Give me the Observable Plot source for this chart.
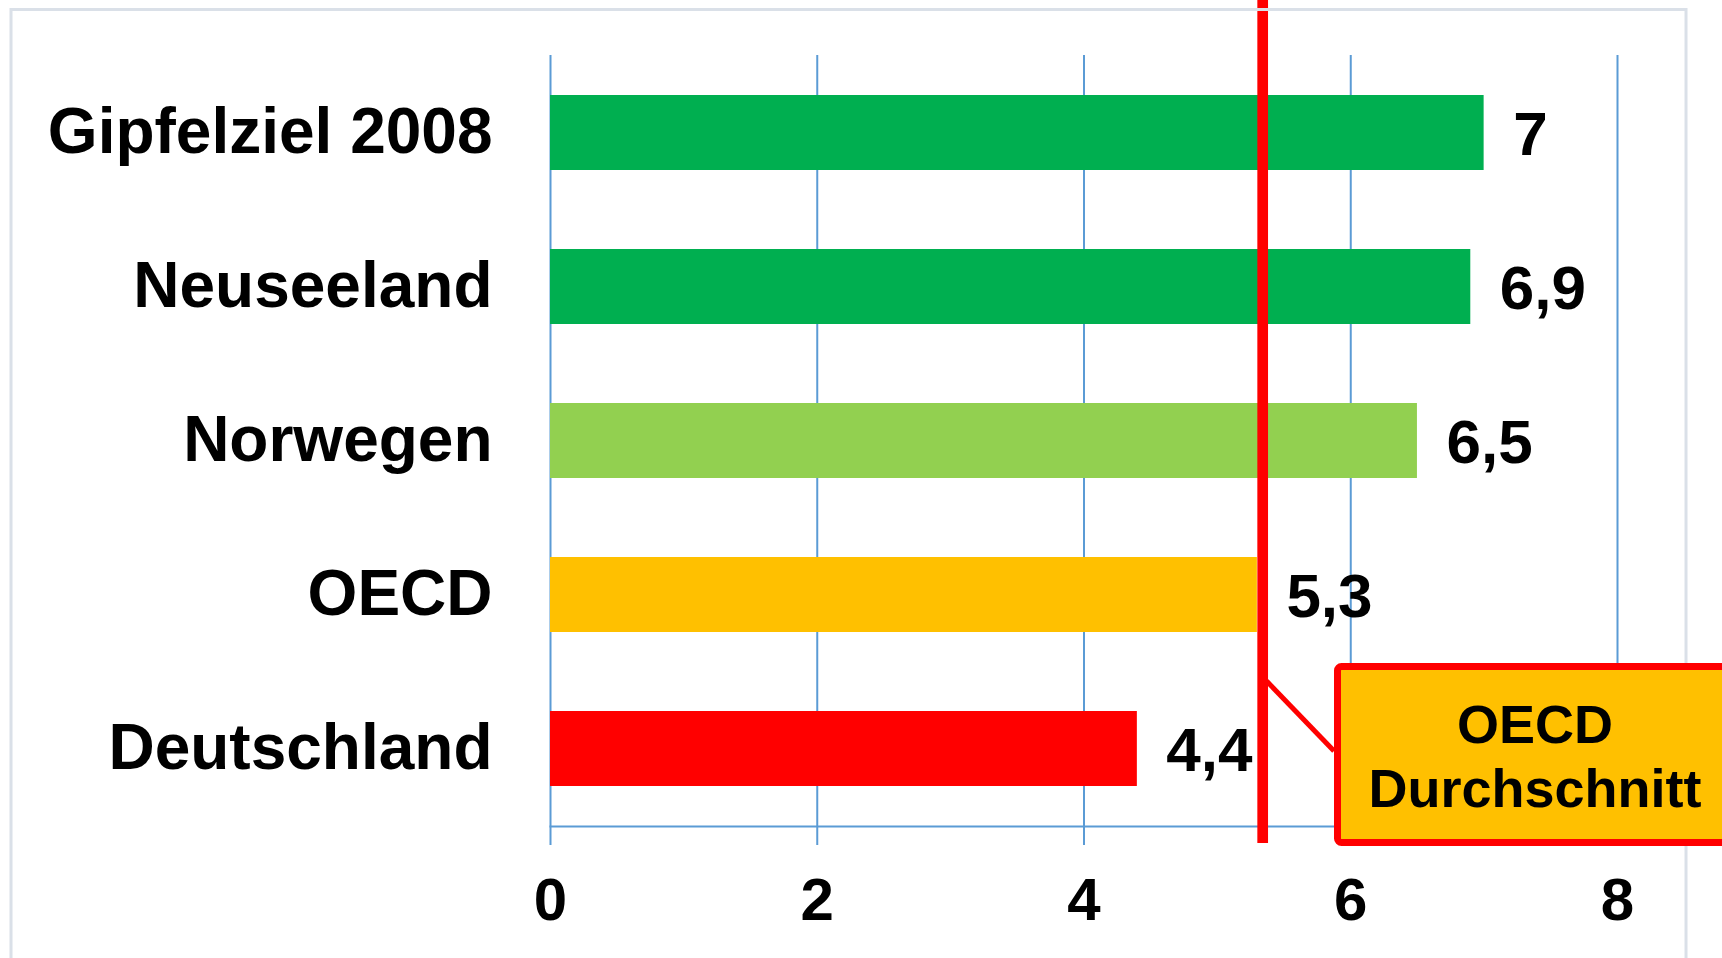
<!DOCTYPE html>
<html>
<head>
<meta charset="utf-8">
<script src="https://cdn.jsdelivr.net/npm/d3@7"></script>
<script src="https://cdn.jsdelivr.net/npm/@observablehq/plot@0.6"></script>
<style>
html, body { margin: 0; padding: 0; background: #fff; overflow: hidden; }
#wrap { position: relative; width: 1722px; height: 958px; font-family: "Liberation Sans", Arial, sans-serif; }
#wrap > svg { position: absolute; left: 0; top: 0; }
</style>
</head>
<body>
<div id="wrap"></div>
<script>
// ---- data ----
const categories = ["Gipfelziel 2008", "Neuseeland", "Norwegen", "OECD", "Deutschland"];
const values = [7, 6.9, 6.5, 5.3, 4.4];
const barColors = ["#00AF50", "#00AF50", "#92D050", "#FFC000", "#FF0000"];
const xTicks = [0, 2, 4, 6, 8];
const oecdAverage = 5.3;
const calloutLines = ["OECD", "Durchschnitt"];

const data = categories.map((name, i) => ({ name, value: values[i], color: barColors[i] }));
const fmt = v => String(v).replace(".", ",");
const FONT = '"Liberation Sans", Arial, sans-serif';

const chart = Plot.plot({
  width: 1722,
  height: 958,
  marginLeft: 550,
  marginRight: 105,
  marginTop: 56,
  marginBottom: 132,
  style: { fontFamily: FONT, background: "transparent", overflow: "visible" },
  x: { domain: [0, 8] },
  y: { domain: categories, paddingInner: 0.51, paddingOuter: 0.255 },
  color: { type: "identity" },
  marks: [
    Plot.ruleX(xTicks, { stroke: "#5B9BD5", strokeWidth: 2, insetTop: -1, insetBottom: -19 }),
    Plot.frame({ anchor: "bottom", stroke: "#5B9BD5", strokeWidth: 2 }),
    Plot.barX(data, { x: "value", y: "name", fill: "color" }),
    Plot.text(data, {
      x: "value", y: "name", text: d => fmt(d.value),
      textAnchor: "start", dx: 29, dy: 2,
      fontSize: 62, fontWeight: "bold", fill: "#000"
    }),
    Plot.ruleX([oecdAverage], { stroke: "#FF0000", strokeWidth: 10.7, dx: 5.3, insetTop: -56, insetBottom: -17 }),
    Plot.axisX({ ticks: xTicks, tickSize: 0, tickPadding: 51, fontSize: 60, fontWeight: "bold", fill: "#000", label: null }),
    Plot.axisY({ tickSize: 0, tickPadding: 58, fontSize: 64, fontWeight: "bold", fill: "#000", label: null })
  ]
});

const wrap = document.getElementById("wrap");
wrap.appendChild(chart);

// ---- overlay: outer frame, leader line and callout box ----
const sx = chart.scale("x");
const ruleRight = sx.apply(oecdAverage) + 10.7;
const ns = "http://www.w3.org/2000/svg";
const ov = document.createElementNS(ns, "svg");
ov.setAttribute("width", 1722);
ov.setAttribute("height", 958);
ov.style.fontFamily = FONT;
function el(tag, attrs, text) {
  const e = document.createElementNS(ns, tag);
  for (const k in attrs) e.setAttribute(k, attrs[k]);
  if (text != null) e.textContent = text;
  ov.appendChild(e);
  return e;
}
el("rect", { x: 11, y: 9.5, width: 1675, height: 1100, fill: "none", stroke: "#DAE0E8", "stroke-width": 3 });
el("line", { x1: ruleRight - 1, y1: 681, x2: 1334, y2: 751, stroke: "#FF0000", "stroke-width": 5 });
el("rect", { x: 1337.5, y: 666.5, width: 500, height: 176, rx: 4, fill: "#FFC000", stroke: "#FF0000", "stroke-width": 7 });
el("text", { x: 1535, y: 743, "text-anchor": "middle", "font-size": 54, "font-weight": "bold", fill: "#000" }, calloutLines[0]);
el("text", { x: 1535, y: 807, "text-anchor": "middle", "font-size": 54, "font-weight": "bold", fill: "#000" }, calloutLines[1]);
wrap.appendChild(ov);
</script>
</body>
</html>
